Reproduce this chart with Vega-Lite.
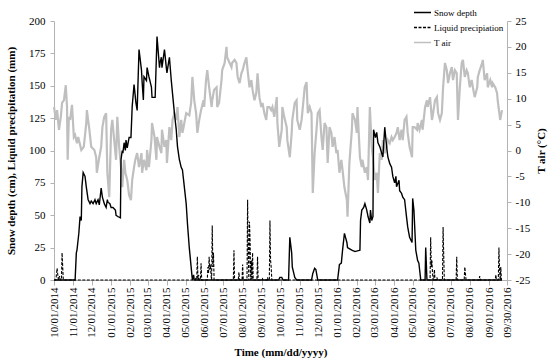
{
  "$schema": "https://vega.github.io/schema/vega-lite/v6.json",
  "width": 453,
  "height": 259,
  "autosize": {"type": "none"},
  "padding": {"left": 54, "top": 21, "right": 43, "bottom": 83},
  "background": "white",
  "config": {
    "font": "Liberation Serif",
    "view": {"stroke": null},
    "axis": {
      "grid": false,
      "domainColor": "#b3b3b3",
      "tickColor": "#b3b3b3",
      "labelColor": "#000000",
      "titleColor": "#000000",
      "labelFont": "Liberation Serif",
      "titleFont": "Liberation Serif",
      "labelFontSize": 11,
      "titleFontSize": 11,
      "titleFontWeight": "bold",
      "tickSize": 4
    },
    "legend": {
      "orient": "none",
      "legendX": 359,
      "legendY": -18,
      "padding": 0,
      "labelFont": "Liberation Serif",
      "labelFontSize": 9,
      "labelColor": "#000000",
      "symbolType": "stroke",
      "symbolSize": 289,
      "symbolStrokeWidth": 1.5,
      "labelOffset": 2,
      "rowPadding": -3.5
    }
  },
  "encoding": {
    "x": {
      "field": "date",
      "type": "temporal",
      "scale": {
        "type": "utc",
        "domain": [
          {"year": 2014, "month": 10, "date": 1, "utc": true},
          {"year": 2016, "month": 9, "date": 30, "utc": true}
        ]
      },
      "axis": {
        "values": [
          {"year": 2014, "month": 10, "date": 1, "utc": true},
          {"year": 2014, "month": 11, "date": 1, "utc": true},
          {"year": 2014, "month": 12, "date": 1, "utc": true},
          {"year": 2015, "month": 1, "date": 1, "utc": true},
          {"year": 2015, "month": 2, "date": 1, "utc": true},
          {"year": 2015, "month": 3, "date": 1, "utc": true},
          {"year": 2015, "month": 4, "date": 1, "utc": true},
          {"year": 2015, "month": 5, "date": 1, "utc": true},
          {"year": 2015, "month": 6, "date": 1, "utc": true},
          {"year": 2015, "month": 7, "date": 1, "utc": true},
          {"year": 2015, "month": 8, "date": 1, "utc": true},
          {"year": 2015, "month": 9, "date": 1, "utc": true},
          {"year": 2015, "month": 10, "date": 1, "utc": true},
          {"year": 2015, "month": 11, "date": 1, "utc": true},
          {"year": 2015, "month": 12, "date": 1, "utc": true},
          {"year": 2016, "month": 1, "date": 1, "utc": true},
          {"year": 2016, "month": 2, "date": 1, "utc": true},
          {"year": 2016, "month": 3, "date": 1, "utc": true},
          {"year": 2016, "month": 4, "date": 1, "utc": true},
          {"year": 2016, "month": 5, "date": 1, "utc": true},
          {"year": 2016, "month": 6, "date": 1, "utc": true},
          {"year": 2016, "month": 7, "date": 1, "utc": true},
          {"year": 2016, "month": 8, "date": 1, "utc": true},
          {"year": 2016, "month": 9, "date": 1, "utc": true},
          {"year": 2016, "month": 9, "date": 30, "utc": true}
        ],
        "labelExpr": "utcFormat(datum.value, '%m/%d/%Y')",
        "labelAngle": -90,
        "labelPadding": 2,
        "tickSize": 5,
        "title": "Time (mm/dd/yyyy)",
        "titleY": 72,
        "titleBaseline": "middle"
      }
    }
  },
  "layer": [
    {
      "data": {"values": [
        {"series":"T air","date":"2014-10-01","value":8.4},{"series":"T air","date":"2014-10-04","value":5.9},{"series":"T air","date":"2014-10-06","value":7.8},{"series":"T air","date":"2014-10-09","value":4.0},{"series":"T air","date":"2014-10-12","value":6.5},{"series":"T air","date":"2014-10-14","value":9.2},{"series":"T air","date":"2014-10-17","value":9.7},{"series":"T air","date":"2014-10-20","value":12.6},{"series":"T air","date":"2014-10-22","value":8.4},{"series":"T air","date":"2014-10-23","value":-1.8},{"series":"T air","date":"2014-10-25","value":6.5},{"series":"T air","date":"2014-10-27","value":5.9},{"series":"T air","date":"2014-10-30","value":8.8},
        {"series":"T air","date":"2014-11-02","value":2.6},{"series":"T air","date":"2014-11-04","value":3.0},{"series":"T air","date":"2014-11-07","value":1.4},{"series":"T air","date":"2014-11-09","value":2.6},{"series":"T air","date":"2014-11-14","value":0.1},{"series":"T air","date":"2014-11-18","value":0.7},{"series":"T air","date":"2014-11-22","value":5.3},{"series":"T air","date":"2014-11-23","value":7.8},{"series":"T air","date":"2014-11-27","value":4.0},{"series":"T air","date":"2014-11-30","value":0.7},
        {"series":"T air","date":"2014-12-05","value":0.1},{"series":"T air","date":"2014-12-08","value":-1.3},{"series":"T air","date":"2014-12-09","value":-4.3},{"series":"T air","date":"2014-12-13","value":-1.3},{"series":"T air","date":"2014-12-16","value":0.7},{"series":"T air","date":"2014-12-18","value":4.5},{"series":"T air","date":"2014-12-21","value":6.5},{"series":"T air","date":"2014-12-24","value":7.2},{"series":"T air","date":"2014-12-26","value":-4.3},{"series":"T air","date":"2014-12-29","value":-9.0},
        {"series":"T air","date":"2015-01-01","value":4.0},{"series":"T air","date":"2015-01-03","value":5.9},{"series":"T air","date":"2015-01-06","value":2.0},{"series":"T air","date":"2015-01-09","value":-1.8},{"series":"T air","date":"2015-01-11","value":6.5},{"series":"T air","date":"2015-01-14","value":0.7},{"series":"T air","date":"2015-01-17","value":-3.2},{"series":"T air","date":"2015-01-19","value":-7.1},{"series":"T air","date":"2015-01-22","value":-1.8},{"series":"T air","date":"2015-01-24","value":-4.3},{"series":"T air","date":"2015-01-27","value":-5.7},{"series":"T air","date":"2015-01-30","value":-8.6},
        {"series":"T air","date":"2015-02-02","value":-9.6},{"series":"T air","date":"2015-02-04","value":-5.7},{"series":"T air","date":"2015-02-07","value":-3.2},{"series":"T air","date":"2015-02-09","value":-1.8},{"series":"T air","date":"2015-02-12","value":-0.5},{"series":"T air","date":"2015-02-15","value":-3.2},{"series":"T air","date":"2015-02-19","value":-0.5},{"series":"T air","date":"2015-02-20","value":-4.3},{"series":"T air","date":"2015-02-23","value":-1.8},{"series":"T air","date":"2015-02-27","value":-3.8},{"series":"T air","date":"2015-02-28","value":0.1},
        {"series":"T air","date":"2015-03-03","value":-3.2},{"series":"T air","date":"2015-03-07","value":2.0},{"series":"T air","date":"2015-03-08","value":5.3},{"series":"T air","date":"2015-03-12","value":2.6},{"series":"T air","date":"2015-03-15","value":-1.8},{"series":"T air","date":"2015-03-16","value":2.6},{"series":"T air","date":"2015-03-20","value":0.7},{"series":"T air","date":"2015-03-23","value":-0.5},{"series":"T air","date":"2015-03-24","value":4.0},{"series":"T air","date":"2015-03-28","value":0.7},{"series":"T air","date":"2015-03-31","value":2.0},
        {"series":"T air","date":"2015-04-01","value":-2.4},{"series":"T air","date":"2015-04-05","value":4.5},{"series":"T air","date":"2015-04-08","value":2.0},{"series":"T air","date":"2015-04-10","value":5.9},{"series":"T air","date":"2015-04-13","value":7.2},{"series":"T air","date":"2015-04-16","value":5.9},{"series":"T air","date":"2015-04-18","value":8.4},{"series":"T air","date":"2015-04-21","value":2.6},{"series":"T air","date":"2015-04-24","value":5.9},{"series":"T air","date":"2015-04-26","value":3.4},{"series":"T air","date":"2015-04-29","value":5.3},
        {"series":"T air","date":"2015-05-02","value":7.2},{"series":"T air","date":"2015-05-07","value":6.8},{"series":"T air","date":"2015-05-10","value":9.2},{"series":"T air","date":"2015-05-12","value":14.2},{"series":"T air","date":"2015-05-15","value":9.7},{"series":"T air","date":"2015-05-18","value":7.2},{"series":"T air","date":"2015-05-20","value":3.4},{"series":"T air","date":"2015-05-23","value":5.9},{"series":"T air","date":"2015-05-26","value":7.8},{"series":"T air","date":"2015-05-30","value":9.7},{"series":"T air","date":"2015-05-31","value":8.4},
        {"series":"T air","date":"2015-06-03","value":13.6},{"series":"T air","date":"2015-06-05","value":15.5},{"series":"T air","date":"2015-06-08","value":12.2},{"series":"T air","date":"2015-06-12","value":8.4},{"series":"T air","date":"2015-06-13","value":9.7},{"series":"T air","date":"2015-06-16","value":11.7},{"series":"T air","date":"2015-06-20","value":12.2},{"series":"T air","date":"2015-06-21","value":8.4},{"series":"T air","date":"2015-06-24","value":9.2},{"series":"T air","date":"2015-06-28","value":13.6},{"series":"T air","date":"2015-06-29","value":15.5},
        {"series":"T air","date":"2015-07-03","value":16.9},{"series":"T air","date":"2015-07-06","value":20.0},{"series":"T air","date":"2015-07-07","value":18.0},{"series":"T air","date":"2015-07-11","value":16.9},{"series":"T air","date":"2015-07-14","value":16.1},{"series":"T air","date":"2015-07-15","value":16.9},{"series":"T air","date":"2015-07-19","value":17.5},{"series":"T air","date":"2015-07-22","value":16.9},{"series":"T air","date":"2015-07-24","value":14.2},{"series":"T air","date":"2015-07-27","value":13.0},{"series":"T air","date":"2015-07-30","value":14.9},
        {"series":"T air","date":"2015-08-01","value":15.5},{"series":"T air","date":"2015-08-04","value":16.9},{"series":"T air","date":"2015-08-07","value":18.0},{"series":"T air","date":"2015-08-09","value":15.5},{"series":"T air","date":"2015-08-12","value":12.2},{"series":"T air","date":"2015-08-15","value":13.6},{"series":"T air","date":"2015-08-17","value":11.7},{"series":"T air","date":"2015-08-20","value":9.7},{"series":"T air","date":"2015-08-23","value":11.1},{"series":"T air","date":"2015-08-25","value":14.9},{"series":"T air","date":"2015-08-28","value":10.3},{"series":"T air","date":"2015-08-31","value":8.4},
        {"series":"T air","date":"2015-09-02","value":9.2},{"series":"T air","date":"2015-09-05","value":7.2},{"series":"T air","date":"2015-09-08","value":5.9},{"series":"T air","date":"2015-09-10","value":8.4},{"series":"T air","date":"2015-09-13","value":8.4},{"series":"T air","date":"2015-09-16","value":7.8},{"series":"T air","date":"2015-09-18","value":8.4},{"series":"T air","date":"2015-09-21","value":6.5},{"series":"T air","date":"2015-09-25","value":10.3},{"series":"T air","date":"2015-09-26","value":5.3},{"series":"T air","date":"2015-09-29","value":0.7},
        {"series":"T air","date":"2015-10-03","value":4.0},{"series":"T air","date":"2015-10-04","value":8.4},{"series":"T air","date":"2015-10-07","value":6.5},{"series":"T air","date":"2015-10-11","value":4.5},{"series":"T air","date":"2015-10-12","value":2.0},{"series":"T air","date":"2015-10-16","value":-1.3},{"series":"T air","date":"2015-10-19","value":3.4},{"series":"T air","date":"2015-10-20","value":5.9},{"series":"T air","date":"2015-10-24","value":9.2},{"series":"T air","date":"2015-10-27","value":9.7},{"series":"T air","date":"2015-10-28","value":5.9},
        {"series":"T air","date":"2015-11-01","value":4.0},{"series":"T air","date":"2015-11-04","value":5.9},{"series":"T air","date":"2015-11-06","value":8.4},{"series":"T air","date":"2015-11-09","value":12.2},{"series":"T air","date":"2015-11-12","value":13.2},{"series":"T air","date":"2015-11-14","value":7.2},{"series":"T air","date":"2015-11-17","value":8.4},{"series":"T air","date":"2015-11-20","value":7.2},{"series":"T air","date":"2015-11-22","value":-8.2},{"series":"T air","date":"2015-11-25","value":-0.5},{"series":"T air","date":"2015-11-28","value":4.0},{"series":"T air","date":"2015-11-30","value":7.2},
        {"series":"T air","date":"2015-12-03","value":7.8},{"series":"T air","date":"2015-12-06","value":2.6},{"series":"T air","date":"2015-12-08","value":0.1},{"series":"T air","date":"2015-12-11","value":5.3},{"series":"T air","date":"2015-12-14","value":4.5},{"series":"T air","date":"2015-12-16","value":-2.4},{"series":"T air","date":"2015-12-19","value":4.5},{"series":"T air","date":"2015-12-22","value":3.4},{"series":"T air","date":"2015-12-24","value":0.7},{"series":"T air","date":"2015-12-27","value":2.6},{"series":"T air","date":"2015-12-30","value":-0.5},
        {"series":"T air","date":"2016-01-01","value":0.1},{"series":"T air","date":"2016-01-04","value":-4.3},{"series":"T air","date":"2016-01-07","value":-1.8},{"series":"T air","date":"2016-01-09","value":-3.8},{"series":"T air","date":"2016-01-12","value":-7.1},{"series":"T air","date":"2016-01-16","value":-9.6},{"series":"T air","date":"2016-01-17","value":-12.8},{"series":"T air","date":"2016-01-20","value":-2.4},{"series":"T air","date":"2016-01-24","value":4.0},{"series":"T air","date":"2016-01-25","value":7.2},{"series":"T air","date":"2016-01-29","value":5.9},
        {"series":"T air","date":"2016-02-01","value":3.4},{"series":"T air","date":"2016-02-02","value":8.4},{"series":"T air","date":"2016-02-06","value":-1.3},{"series":"T air","date":"2016-02-09","value":-3.2},{"series":"T air","date":"2016-02-10","value":-1.8},{"series":"T air","date":"2016-02-14","value":-4.3},{"series":"T air","date":"2016-02-17","value":-3.2},{"series":"T air","date":"2016-02-19","value":-5.7},{"series":"T air","date":"2016-02-22","value":8.4},{"series":"T air","date":"2016-02-25","value":0.7},{"series":"T air","date":"2016-02-27","value":-1.3},
        {"series":"T air","date":"2016-03-01","value":-5.7},{"series":"T air","date":"2016-03-04","value":-4.3},{"series":"T air","date":"2016-03-06","value":-8.2},{"series":"T air","date":"2016-03-09","value":-0.5},{"series":"T air","date":"2016-03-12","value":-1.8},{"series":"T air","date":"2016-03-14","value":2.0},{"series":"T air","date":"2016-03-17","value":-0.5},{"series":"T air","date":"2016-03-20","value":0.7},{"series":"T air","date":"2016-03-22","value":2.0},{"series":"T air","date":"2016-03-25","value":1.4},{"series":"T air","date":"2016-03-28","value":2.6},{"series":"T air","date":"2016-03-30","value":2.0},
        {"series":"T air","date":"2016-04-02","value":2.6},{"series":"T air","date":"2016-04-05","value":3.4},{"series":"T air","date":"2016-04-07","value":4.5},{"series":"T air","date":"2016-04-10","value":2.0},{"series":"T air","date":"2016-04-13","value":4.0},{"series":"T air","date":"2016-04-15","value":2.0},{"series":"T air","date":"2016-04-18","value":5.9},{"series":"T air","date":"2016-04-21","value":6.5},{"series":"T air","date":"2016-04-23","value":3.4},{"series":"T air","date":"2016-04-26","value":0.7},{"series":"T air","date":"2016-04-30","value":-1.3},
        {"series":"T air","date":"2016-05-01","value":4.5},{"series":"T air","date":"2016-05-04","value":4.5},{"series":"T air","date":"2016-05-08","value":4.0},{"series":"T air","date":"2016-05-09","value":5.3},{"series":"T air","date":"2016-05-12","value":4.0},{"series":"T air","date":"2016-05-16","value":5.9},{"series":"T air","date":"2016-05-17","value":4.0},{"series":"T air","date":"2016-05-21","value":8.4},{"series":"T air","date":"2016-05-24","value":9.7},{"series":"T air","date":"2016-05-25","value":8.4},{"series":"T air","date":"2016-05-29","value":10.3},
        {"series":"T air","date":"2016-06-01","value":5.9},{"series":"T air","date":"2016-06-02","value":6.5},{"series":"T air","date":"2016-06-06","value":9.7},{"series":"T air","date":"2016-06-09","value":10.3},{"series":"T air","date":"2016-06-11","value":7.2},{"series":"T air","date":"2016-06-14","value":5.9},{"series":"T air","date":"2016-06-17","value":7.2},{"series":"T air","date":"2016-06-19","value":12.2},{"series":"T air","date":"2016-06-22","value":16.9},{"series":"T air","date":"2016-06-25","value":15.5},{"series":"T air","date":"2016-06-27","value":13.0},{"series":"T air","date":"2016-06-30","value":14.9},
        {"series":"T air","date":"2016-07-03","value":16.1},{"series":"T air","date":"2016-07-05","value":13.6},{"series":"T air","date":"2016-07-08","value":15.5},{"series":"T air","date":"2016-07-11","value":14.9},{"series":"T air","date":"2016-07-13","value":5.9},{"series":"T air","date":"2016-07-16","value":12.2},{"series":"T air","date":"2016-07-19","value":16.9},{"series":"T air","date":"2016-07-21","value":17.5},{"series":"T air","date":"2016-07-24","value":14.2},{"series":"T air","date":"2016-07-27","value":15.5},{"series":"T air","date":"2016-07-29","value":14.9},
        {"series":"T air","date":"2016-08-01","value":12.2},{"series":"T air","date":"2016-08-04","value":13.6},{"series":"T air","date":"2016-08-06","value":12.2},{"series":"T air","date":"2016-08-09","value":10.3},{"series":"T air","date":"2016-08-13","value":12.2},{"series":"T air","date":"2016-08-14","value":14.2},{"series":"T air","date":"2016-08-17","value":15.5},{"series":"T air","date":"2016-08-21","value":16.9},{"series":"T air","date":"2016-08-22","value":17.5},{"series":"T air","date":"2016-08-25","value":13.6},{"series":"T air","date":"2016-08-29","value":14.9},{"series":"T air","date":"2016-08-30","value":12.2},
        {"series":"T air","date":"2016-09-03","value":13.6},{"series":"T air","date":"2016-09-06","value":12.2},{"series":"T air","date":"2016-09-07","value":13.0},{"series":"T air","date":"2016-09-11","value":12.2},{"series":"T air","date":"2016-09-14","value":11.1},{"series":"T air","date":"2016-09-15","value":9.7},{"series":"T air","date":"2016-09-19","value":5.9},{"series":"T air","date":"2016-09-22","value":7.8}
      ]},
      "mark": {"type": "line", "strokeWidth": 2.2, "interpolate": "linear"},
      "encoding": {
        "y": {
          "field": "value",
          "type": "quantitative",
          "scale": {"domain": [-25, 25], "nice": false, "zero": false},
          "axis": {
            "orient": "right",
            "values": [-25, -20, -15, -10, -5, 0, 5, 10, 15, 20, 25],
            "labelExpr": "toString(datum.value)",
            "labelPadding": 4,
            "title": "T air (°C)",
            "titleAngle": 270,
            "titleX": 34,
            "titleY": 129.5,
            "titleBaseline": "middle",
            "titleAlign": "center"
          }
        },
        "color": {
          "field": "series",
          "type": "nominal",
          "scale": {"domain": ["Snow depth", "Liquid precipiation", "T air"], "range": ["#000000", "#000000", "#bfbfbf"]},
          "legend": {"title": null}
        },
        "strokeDash": {
          "field": "series",
          "type": "nominal",
          "scale": {"domain": ["Snow depth", "Liquid precipiation", "T air"], "range": [[1, 0], [3, 1.5], [1, 0]]},
          "legend": {"title": null}
        }
      }
    },
    {
      "encoding": {
        "y": {
          "field": "value",
          "type": "quantitative",
          "scale": {"domain": [0, 200], "nice": false},
          "axis": {
            "orient": "left",
            "values": [0, 25, 50, 75, 100, 125, 150, 175, 200],
            "labelPadding": 5,
            "title": "Snow depth (cm), Liquid  precipitation  (mm)",
            "titleAngle": 270,
            "titleX": -43,
            "titleY": 129.5,
            "titleBaseline": "middle",
            "titleAlign": "center"
          }
        },
        "color": {
          "field": "series",
          "type": "nominal",
          "scale": {"domain": ["Snow depth", "Liquid precipiation", "T air"], "range": ["#000000", "#000000", "#bfbfbf"]},
          "legend": {"title": null}
        },
        "strokeDash": {
          "field": "series",
          "type": "nominal",
          "scale": {"domain": ["Snow depth", "Liquid precipiation", "T air"], "range": [[1, 0], [3, 1.5], [1, 0]]},
          "legend": {"title": null}
        }
      },
      "layer": [
        {
          "data": {"values": [
            {"series":"Liquid precipiation","date":"2014-10-01","value":0},{"series":"Liquid precipiation","date":"2014-10-04","value":0},{"series":"Liquid precipiation","date":"2014-10-06","value":9},{"series":"Liquid precipiation","date":"2014-10-08","value":0},{"series":"Liquid precipiation","date":"2014-10-10","value":3},{"series":"Liquid precipiation","date":"2014-10-11","value":0},{"series":"Liquid precipiation","date":"2014-10-13","value":0},{"series":"Liquid precipiation","date":"2014-10-14","value":21},{"series":"Liquid precipiation","date":"2014-10-16","value":0},
            {"series":"Liquid precipiation","date":"2015-05-16","value":0},{"series":"Liquid precipiation","date":"2015-05-17","value":1},{"series":"Liquid precipiation","date":"2015-05-18","value":0},{"series":"Liquid precipiation","date":"2015-05-19","value":0},{"series":"Liquid precipiation","date":"2015-05-20","value":18},{"series":"Liquid precipiation","date":"2015-05-21","value":0},{"series":"Liquid precipiation","date":"2015-05-22","value":4},{"series":"Liquid precipiation","date":"2015-05-23","value":0},{"series":"Liquid precipiation","date":"2015-05-25","value":0},{"series":"Liquid precipiation","date":"2015-05-26","value":13},{"series":"Liquid precipiation","date":"2015-05-27","value":0},
            {"series":"Liquid precipiation","date":"2015-06-05","value":0},{"series":"Liquid precipiation","date":"2015-06-06","value":10},{"series":"Liquid precipiation","date":"2015-06-07","value":5},{"series":"Liquid precipiation","date":"2015-06-08","value":18},{"series":"Liquid precipiation","date":"2015-06-09","value":8},{"series":"Liquid precipiation","date":"2015-06-10","value":12},{"series":"Liquid precipiation","date":"2015-06-11","value":4},{"series":"Liquid precipiation","date":"2015-06-12","value":0},{"series":"Liquid precipiation","date":"2015-06-13","value":42},{"series":"Liquid precipiation","date":"2015-06-14","value":10},{"series":"Liquid precipiation","date":"2015-06-15","value":21},{"series":"Liquid precipiation","date":"2015-06-16","value":0},
            {"series":"Liquid precipiation","date":"2015-07-17","value":0},{"series":"Liquid precipiation","date":"2015-07-18","value":23},{"series":"Liquid precipiation","date":"2015-07-19","value":0},{"series":"Liquid precipiation","date":"2015-07-25","value":0},{"series":"Liquid precipiation","date":"2015-07-26","value":6},{"series":"Liquid precipiation","date":"2015-07-27","value":0},{"series":"Liquid precipiation","date":"2015-07-31","value":0},{"series":"Liquid precipiation","date":"2015-08-01","value":12},{"series":"Liquid precipiation","date":"2015-08-02","value":0},
            {"series":"Liquid precipiation","date":"2015-08-08","value":0},{"series":"Liquid precipiation","date":"2015-08-09","value":62},{"series":"Liquid precipiation","date":"2015-08-10","value":20},{"series":"Liquid precipiation","date":"2015-08-11","value":0},{"series":"Liquid precipiation","date":"2015-08-12","value":45},{"series":"Liquid precipiation","date":"2015-08-13","value":30},{"series":"Liquid precipiation","date":"2015-08-14","value":0},{"series":"Liquid precipiation","date":"2015-08-15","value":15},{"series":"Liquid precipiation","date":"2015-08-16","value":0},{"series":"Liquid precipiation","date":"2015-08-17","value":21},{"series":"Liquid precipiation","date":"2015-08-18","value":0},{"series":"Liquid precipiation","date":"2015-08-24","value":0},{"series":"Liquid precipiation","date":"2015-08-25","value":18},{"series":"Liquid precipiation","date":"2015-08-26","value":0},
            {"series":"Liquid precipiation","date":"2015-09-01","value":0},{"series":"Liquid precipiation","date":"2015-09-02","value":1},{"series":"Liquid precipiation","date":"2015-09-03","value":0},{"series":"Liquid precipiation","date":"2015-09-09","value":0},{"series":"Liquid precipiation","date":"2015-09-10","value":2},{"series":"Liquid precipiation","date":"2015-09-11","value":0},{"series":"Liquid precipiation","date":"2015-09-13","value":0},{"series":"Liquid precipiation","date":"2015-09-14","value":46},{"series":"Liquid precipiation","date":"2015-09-15","value":15},{"series":"Liquid precipiation","date":"2015-09-16","value":10},{"series":"Liquid precipiation","date":"2015-09-17","value":0},
            {"series":"Liquid precipiation","date":"2016-05-29","value":0},{"series":"Liquid precipiation","date":"2016-05-30","value":33},{"series":"Liquid precipiation","date":"2016-05-31","value":10},{"series":"Liquid precipiation","date":"2016-06-01","value":15},{"series":"Liquid precipiation","date":"2016-06-02","value":5},{"series":"Liquid precipiation","date":"2016-06-03","value":0},{"series":"Liquid precipiation","date":"2016-06-04","value":0},{"series":"Liquid precipiation","date":"2016-06-05","value":8},{"series":"Liquid precipiation","date":"2016-06-06","value":0},{"series":"Liquid precipiation","date":"2016-06-08","value":0},{"series":"Liquid precipiation","date":"2016-06-09","value":2},{"series":"Liquid precipiation","date":"2016-06-10","value":0},{"series":"Liquid precipiation","date":"2016-06-18","value":0},{"series":"Liquid precipiation","date":"2016-06-19","value":41},{"series":"Liquid precipiation","date":"2016-06-20","value":20},{"series":"Liquid precipiation","date":"2016-06-21","value":0},
            {"series":"Liquid precipiation","date":"2016-07-10","value":0},{"series":"Liquid precipiation","date":"2016-07-11","value":18},{"series":"Liquid precipiation","date":"2016-07-12","value":0},{"series":"Liquid precipiation","date":"2016-07-23","value":0},{"series":"Liquid precipiation","date":"2016-07-24","value":10},{"series":"Liquid precipiation","date":"2016-07-25","value":5},{"series":"Liquid precipiation","date":"2016-07-26","value":0},{"series":"Liquid precipiation","date":"2016-08-16","value":0},{"series":"Liquid precipiation","date":"2016-08-17","value":3},{"series":"Liquid precipiation","date":"2016-08-18","value":0},
            {"series":"Liquid precipiation","date":"2016-09-11","value":0},{"series":"Liquid precipiation","date":"2016-09-12","value":4},{"series":"Liquid precipiation","date":"2016-09-13","value":0},{"series":"Liquid precipiation","date":"2016-09-16","value":0},{"series":"Liquid precipiation","date":"2016-09-17","value":25},{"series":"Liquid precipiation","date":"2016-09-18","value":8},{"series":"Liquid precipiation","date":"2016-09-19","value":0},{"series":"Liquid precipiation","date":"2016-09-20","value":10},{"series":"Liquid precipiation","date":"2016-09-21","value":0}
          ]},
          "mark": {"type": "line", "strokeWidth": 1.1}
        },
        {
          "data": {"values": [
            {"series":"Snow depth","date":"2014-10-01","value":0},{"series":"Snow depth","date":"2014-11-04","value":0},{"series":"Snow depth","date":"2014-11-06","value":21},{"series":"Snow depth","date":"2014-11-07","value":23},{"series":"Snow depth","date":"2014-11-10","value":36},{"series":"Snow depth","date":"2014-11-12","value":49},{"series":"Snow depth","date":"2014-11-14","value":46},{"series":"Snow depth","date":"2014-11-15","value":72},{"series":"Snow depth","date":"2014-11-17","value":83},{"series":"Snow depth","date":"2014-11-20","value":80},{"series":"Snow depth","date":"2014-11-22","value":72},{"series":"Snow depth","date":"2014-11-25","value":62},{"series":"Snow depth","date":"2014-11-28","value":59},{"series":"Snow depth","date":"2014-11-30","value":61},
            {"series":"Snow depth","date":"2014-12-03","value":59},{"series":"Snow depth","date":"2014-12-06","value":62},{"series":"Snow depth","date":"2014-12-08","value":59},{"series":"Snow depth","date":"2014-12-11","value":62},{"series":"Snow depth","date":"2014-12-13","value":58},{"series":"Snow depth","date":"2014-12-16","value":71},{"series":"Snow depth","date":"2014-12-18","value":64},{"series":"Snow depth","date":"2014-12-21","value":59},{"series":"Snow depth","date":"2014-12-24","value":56},{"series":"Snow depth","date":"2014-12-26","value":62},{"series":"Snow depth","date":"2014-12-27","value":60},{"series":"Snow depth","date":"2014-12-30","value":59},
            {"series":"Snow depth","date":"2015-01-01","value":56},{"series":"Snow depth","date":"2015-01-04","value":56},{"series":"Snow depth","date":"2015-01-08","value":54},{"series":"Snow depth","date":"2015-01-09","value":50},{"series":"Snow depth","date":"2015-01-12","value":49},{"series":"Snow depth","date":"2015-01-16","value":48},{"series":"Snow depth","date":"2015-01-17","value":93},{"series":"Snow depth","date":"2015-01-19","value":100},{"series":"Snow depth","date":"2015-01-20","value":98},{"series":"Snow depth","date":"2015-01-22","value":106},{"series":"Snow depth","date":"2015-01-24","value":100},{"series":"Snow depth","date":"2015-01-25","value":108},{"series":"Snow depth","date":"2015-01-27","value":102},{"series":"Snow depth","date":"2015-01-30","value":110},
            {"series":"Snow depth","date":"2015-02-02","value":110},{"series":"Snow depth","date":"2015-02-04","value":134},{"series":"Snow depth","date":"2015-02-07","value":151},{"series":"Snow depth","date":"2015-02-10","value":137},{"series":"Snow depth","date":"2015-02-12","value":131},{"series":"Snow depth","date":"2015-02-15","value":178},{"series":"Snow depth","date":"2015-02-19","value":162},{"series":"Snow depth","date":"2015-02-20","value":153},{"series":"Snow depth","date":"2015-02-22","value":139},{"series":"Snow depth","date":"2015-02-23","value":157},{"series":"Snow depth","date":"2015-02-27","value":154},{"series":"Snow depth","date":"2015-02-28","value":164},
            {"series":"Snow depth","date":"2015-03-03","value":157},{"series":"Snow depth","date":"2015-03-07","value":149},{"series":"Snow depth","date":"2015-03-08","value":141},{"series":"Snow depth","date":"2015-03-13","value":141},{"series":"Snow depth","date":"2015-03-16","value":188},{"series":"Snow depth","date":"2015-03-20","value":164},{"series":"Snow depth","date":"2015-03-21","value":168},{"series":"Snow depth","date":"2015-03-23","value":172},{"series":"Snow depth","date":"2015-03-24","value":164},{"series":"Snow depth","date":"2015-03-28","value":178},{"series":"Snow depth","date":"2015-03-31","value":164},
            {"series":"Snow depth","date":"2015-04-01","value":160},{"series":"Snow depth","date":"2015-04-05","value":172},{"series":"Snow depth","date":"2015-04-08","value":154},{"series":"Snow depth","date":"2015-04-10","value":144},{"series":"Snow depth","date":"2015-04-13","value":129},{"series":"Snow depth","date":"2015-04-16","value":116},{"series":"Snow depth","date":"2015-04-18","value":103},{"series":"Snow depth","date":"2015-04-21","value":93},{"series":"Snow depth","date":"2015-04-24","value":87},{"series":"Snow depth","date":"2015-04-26","value":85},{"series":"Snow depth","date":"2015-04-29","value":72},
            {"series":"Snow depth","date":"2015-05-02","value":59},{"series":"Snow depth","date":"2015-05-04","value":44},{"series":"Snow depth","date":"2015-05-07","value":25},{"series":"Snow depth","date":"2015-05-10","value":10},{"series":"Snow depth","date":"2015-05-12","value":0},{"series":"Snow depth","date":"2015-05-14","value":4},{"series":"Snow depth","date":"2015-05-15","value":0},
            {"series":"Snow depth","date":"2015-09-28","value":0},{"series":"Snow depth","date":"2015-09-30","value":2},{"series":"Snow depth","date":"2015-10-03","value":2},{"series":"Snow depth","date":"2015-10-05","value":0},{"series":"Snow depth","date":"2015-10-14","value":0},{"series":"Snow depth","date":"2015-10-16","value":33},{"series":"Snow depth","date":"2015-10-19","value":21},{"series":"Snow depth","date":"2015-10-20","value":10},{"series":"Snow depth","date":"2015-10-24","value":2},{"series":"Snow depth","date":"2015-10-27","value":0},
            {"series":"Snow depth","date":"2015-11-20","value":0},{"series":"Snow depth","date":"2015-11-22","value":5},{"series":"Snow depth","date":"2015-11-25","value":9},{"series":"Snow depth","date":"2015-11-27","value":8},{"series":"Snow depth","date":"2015-11-30","value":0},
            {"series":"Snow depth","date":"2016-01-01","value":0},{"series":"Snow depth","date":"2016-01-04","value":12},{"series":"Snow depth","date":"2016-01-07","value":13},{"series":"Snow depth","date":"2016-01-09","value":23},{"series":"Snow depth","date":"2016-01-12","value":36},{"series":"Snow depth","date":"2016-01-16","value":29},{"series":"Snow depth","date":"2016-01-17","value":25},{"series":"Snow depth","date":"2016-01-24","value":23},{"series":"Snow depth","date":"2016-01-29","value":22},
            {"series":"Snow depth","date":"2016-02-06","value":23},{"series":"Snow depth","date":"2016-02-07","value":46},{"series":"Snow depth","date":"2016-02-09","value":54},{"series":"Snow depth","date":"2016-02-12","value":56},{"series":"Snow depth","date":"2016-02-14","value":59},{"series":"Snow depth","date":"2016-02-17","value":54},{"series":"Snow depth","date":"2016-02-19","value":49},{"series":"Snow depth","date":"2016-02-22","value":44},{"series":"Snow depth","date":"2016-02-23","value":54},{"series":"Snow depth","date":"2016-02-25","value":46},{"series":"Snow depth","date":"2016-02-27","value":49},{"series":"Snow depth","date":"2016-02-28","value":116},
            {"series":"Snow depth","date":"2016-03-02","value":110},{"series":"Snow depth","date":"2016-03-04","value":114},{"series":"Snow depth","date":"2016-03-06","value":106},{"series":"Snow depth","date":"2016-03-09","value":103},{"series":"Snow depth","date":"2016-03-12","value":98},{"series":"Snow depth","date":"2016-03-14","value":95},{"series":"Snow depth","date":"2016-03-17","value":118},{"series":"Snow depth","date":"2016-03-20","value":103},{"series":"Snow depth","date":"2016-03-22","value":95},{"series":"Snow depth","date":"2016-03-25","value":90},{"series":"Snow depth","date":"2016-03-28","value":87},{"series":"Snow depth","date":"2016-03-30","value":80},
            {"series":"Snow depth","date":"2016-04-02","value":75},{"series":"Snow depth","date":"2016-04-04","value":80},{"series":"Snow depth","date":"2016-04-05","value":72},{"series":"Snow depth","date":"2016-04-09","value":77},{"series":"Snow depth","date":"2016-04-10","value":69},{"series":"Snow depth","date":"2016-04-13","value":67},{"series":"Snow depth","date":"2016-04-15","value":64},{"series":"Snow depth","date":"2016-04-18","value":62},{"series":"Snow depth","date":"2016-04-21","value":49},{"series":"Snow depth","date":"2016-04-23","value":41},{"series":"Snow depth","date":"2016-04-26","value":33},{"series":"Snow depth","date":"2016-04-30","value":29},
            {"series":"Snow depth","date":"2016-05-01","value":63},{"series":"Snow depth","date":"2016-05-03","value":54},{"series":"Snow depth","date":"2016-05-06","value":23},{"series":"Snow depth","date":"2016-05-09","value":15},{"series":"Snow depth","date":"2016-05-11","value":13},{"series":"Snow depth","date":"2016-05-14","value":0},{"series":"Snow depth","date":"2016-05-21","value":0},{"series":"Snow depth","date":"2016-05-22","value":25},{"series":"Snow depth","date":"2016-05-24","value":0},{"series":"Snow depth","date":"2016-09-22","value":0}
          ]},
          "mark": {"type": "line", "strokeWidth": 1.4}
        }
      ]
    }
  ],
  "resolve": {"scale": {"y": "independent"}}
}
